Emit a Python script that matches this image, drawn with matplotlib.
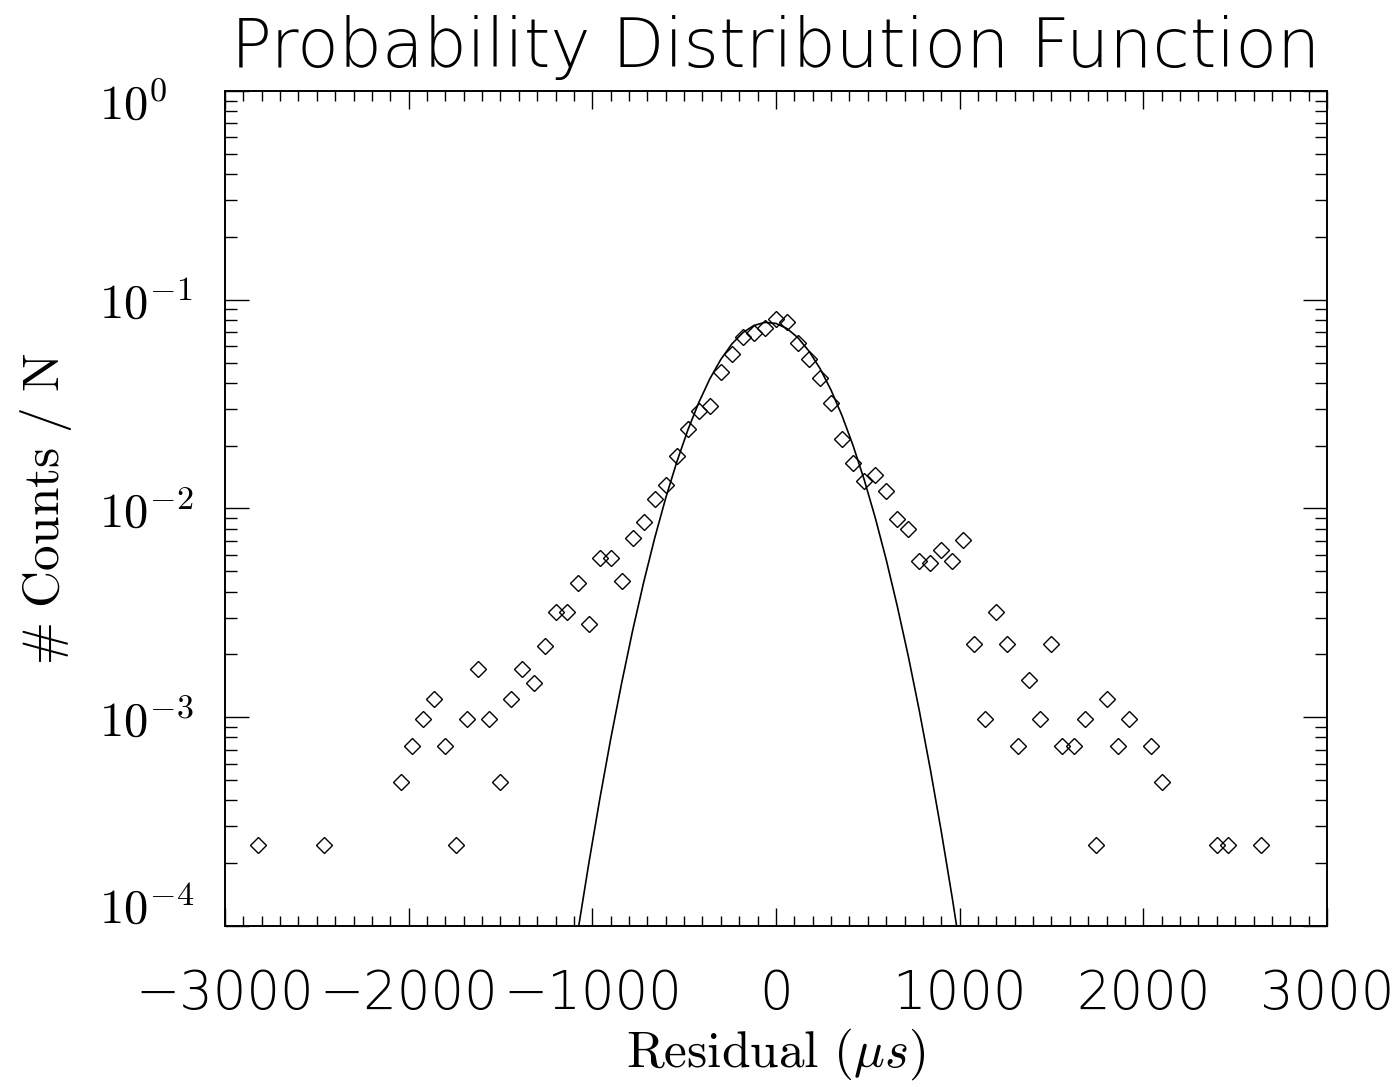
import matplotlib
matplotlib.use('Agg')
import numpy as np
import matplotlib.pyplot as plt
from matplotlib.ticker import MultipleLocator, LogLocator, FuncFormatter, NullFormatter
from matplotlib.transforms import ScaledTranslation

plt.rcParams['mathtext.fontset'] = 'cm'

# histogram of residuals (bin centre in microseconds, fraction of counts)
resid_bins = [-2820, -2460, -2040, -1980, -1920, -1860, -1800, -1740, -1680, -1620,
              -1560, -1500, -1440, -1380, -1320, -1260, -1200, -1140, -1080, -1020,
              -960, -900, -840, -780, -720, -660, -600, -540, -480, -420,
              -360, -300, -240, -180, -120, -60, 0, 60, 120, 180,
              240, 300, 360, 420, 480, 540, 600, 660, 720, 780,
              840, 900, 960, 1020, 1080, 1140, 1200, 1260, 1320, 1380,
              1440, 1500, 1560, 1620, 1680, 1740, 1800, 1860, 1920, 2040,
              2100, 2400, 2460, 2640]
frac_counts = [2.44e-4, 2.44e-4, 4.9e-4, 7.3e-4, 9.8e-4, 1.22e-3, 7.3e-4, 2.44e-4, 9.8e-4, 1.71e-3,
               9.8e-4, 4.9e-4, 1.22e-3, 1.71e-3, 1.46e-3, 2.2e-3, 3.2e-3, 3.2e-3, 4.4e-3, 2.8e-3,
               5.8e-3, 5.8e-3, 4.5e-3, 7.2e-3, 8.6e-3, 1.11e-2, 1.30e-2, 1.78e-2, 2.4e-2, 2.93e-2,
               3.1e-2, 4.5e-2, 5.5e-2, 6.6e-2, 6.9e-2, 7.3e-2, 8.1e-2, 7.8e-2, 6.2e-2, 5.2e-2,
               4.2e-2, 3.2e-2, 2.16e-2, 1.65e-2, 1.36e-2, 1.44e-2, 1.21e-2, 8.9e-3, 8.0e-3, 5.6e-3,
               5.5e-3, 6.35e-3, 5.6e-3, 7.1e-3, 2.24e-3, 9.8e-4, 3.2e-3, 2.24e-3, 7.3e-4, 1.5e-3,
               9.8e-4, 2.24e-3, 7.3e-4, 7.3e-4, 9.8e-4, 2.44e-4, 1.22e-3, 7.3e-4, 9.8e-4, 7.3e-4,
               4.9e-4, 2.44e-4, 2.44e-4, 2.44e-4]

# gaussian fit, read at the bin centres
fit_bins = [-1080, -1020, -960, -900, -840, -780, -720, -660, -600, -540,
            -480, -420, -360, -300, -240, -180, -120, -60, 0, 60,
            120, 180, 240, 300, 360, 420, 480, 540, 600, 660,
            720, 780, 840, 900, 960, 1020]
fit_values = [9.25e-5, 1.97e-4, 4.02e-4, 7.85e-4, 1.46e-3, 2.61e-3, 4.44e-3, 7.23e-3, 1.124e-2, 1.67e-2,
              2.373e-2, 3.22e-2, 4.18e-2, 5.18e-2, 6.14e-2, 6.96e-2, 7.53e-2, 7.79e-2, 7.70e-2, 7.28e-2,
              6.57e-2, 5.67e-2, 4.68e-2, 3.69e-2, 2.78e-2, 2.00e-2, 1.378e-2, 9.07e-3, 5.70e-3, 3.42e-3,
              1.97e-3, 1.08e-3, 5.66e-4, 2.84e-4, 1.36e-4, 6.2e-5]

fig = plt.figure(figsize=(13.98, 10.87), dpi=100)
ax = fig.add_axes([0.1609, 0.1481, 0.7883, 0.7682])

ax.plot(fit_bins, fit_values, color='black', lw=1.2)
ax.plot(resid_bins, frac_counts, ls='none', marker='D', ms=8.2, mfc='none',
        mec='black', mew=1.0)

ax.set_yscale('log')
ax.set_xlim(-3000, 3000)
ax.set_ylim(1e-4, 1)

ax.xaxis.set_major_locator(MultipleLocator(1000))
ax.xaxis.set_minor_locator(MultipleLocator(100))
ax.yaxis.set_major_locator(LogLocator(base=10, numticks=10))
ax.yaxis.set_minor_locator(LogLocator(base=10, subs=np.arange(2, 10), numticks=10))
ax.yaxis.set_minor_formatter(NullFormatter())
ax.yaxis.set_major_formatter(FuncFormatter(lambda v, p: r'$10^{%d}$' % round(np.log10(v))))

for s in ax.spines.values():
    s.set_linewidth(1.4)

ax.tick_params(axis='x', which='major', direction='in', length=13, width=1.0,
               top=True, pad=30, labelsize=38)
ax.tick_params(axis='x', which='minor', direction='in', length=7.5, width=1.0, top=True)
ax.tick_params(axis='y', which='major', direction='in', length=17, width=1.0,
               right=True, pad=91, labelsize=35)
ax.tick_params(axis='y', which='minor', direction='in', length=8.5, width=1.0, right=True)

thin = dict(family='DejaVu Sans', weight='ultralight')

for lab in ax.get_xticklabels():
    lab.set_fontfamily(thin['family'])
    lab.set_fontweight(thin['weight'])
for lab in ax.get_yticklabels():
    lab.set_ha('left')

ax.set_title('Probability Distribution Function', fontsize=49, pad=17, **thin)
ax.set_xlabel(r'$\mathrm{Residual}\ (\mu s)$', fontsize=37, labelpad=4)
ax.set_ylabel(r'$\#\ \mathrm{Counts}\ /\ \mathrm{N}$', fontsize=37, labelpad=18)

# the end labels sit inside the axis range, as in the original
fig.canvas.draw()
for tick in ax.yaxis.get_major_ticks():
    loc = tick.get_loc()
    if np.isclose(loc, 1.0):
        dy = -7
    elif np.isclose(loc, 1e-4):
        dy = 15
    else:
        continue
    tick.label1.set_transform(tick.label1.get_transform()
                              + ScaledTranslation(0, dy / 72, fig.dpi_scale_trans))

fig.savefig('out.png', dpi=100)
